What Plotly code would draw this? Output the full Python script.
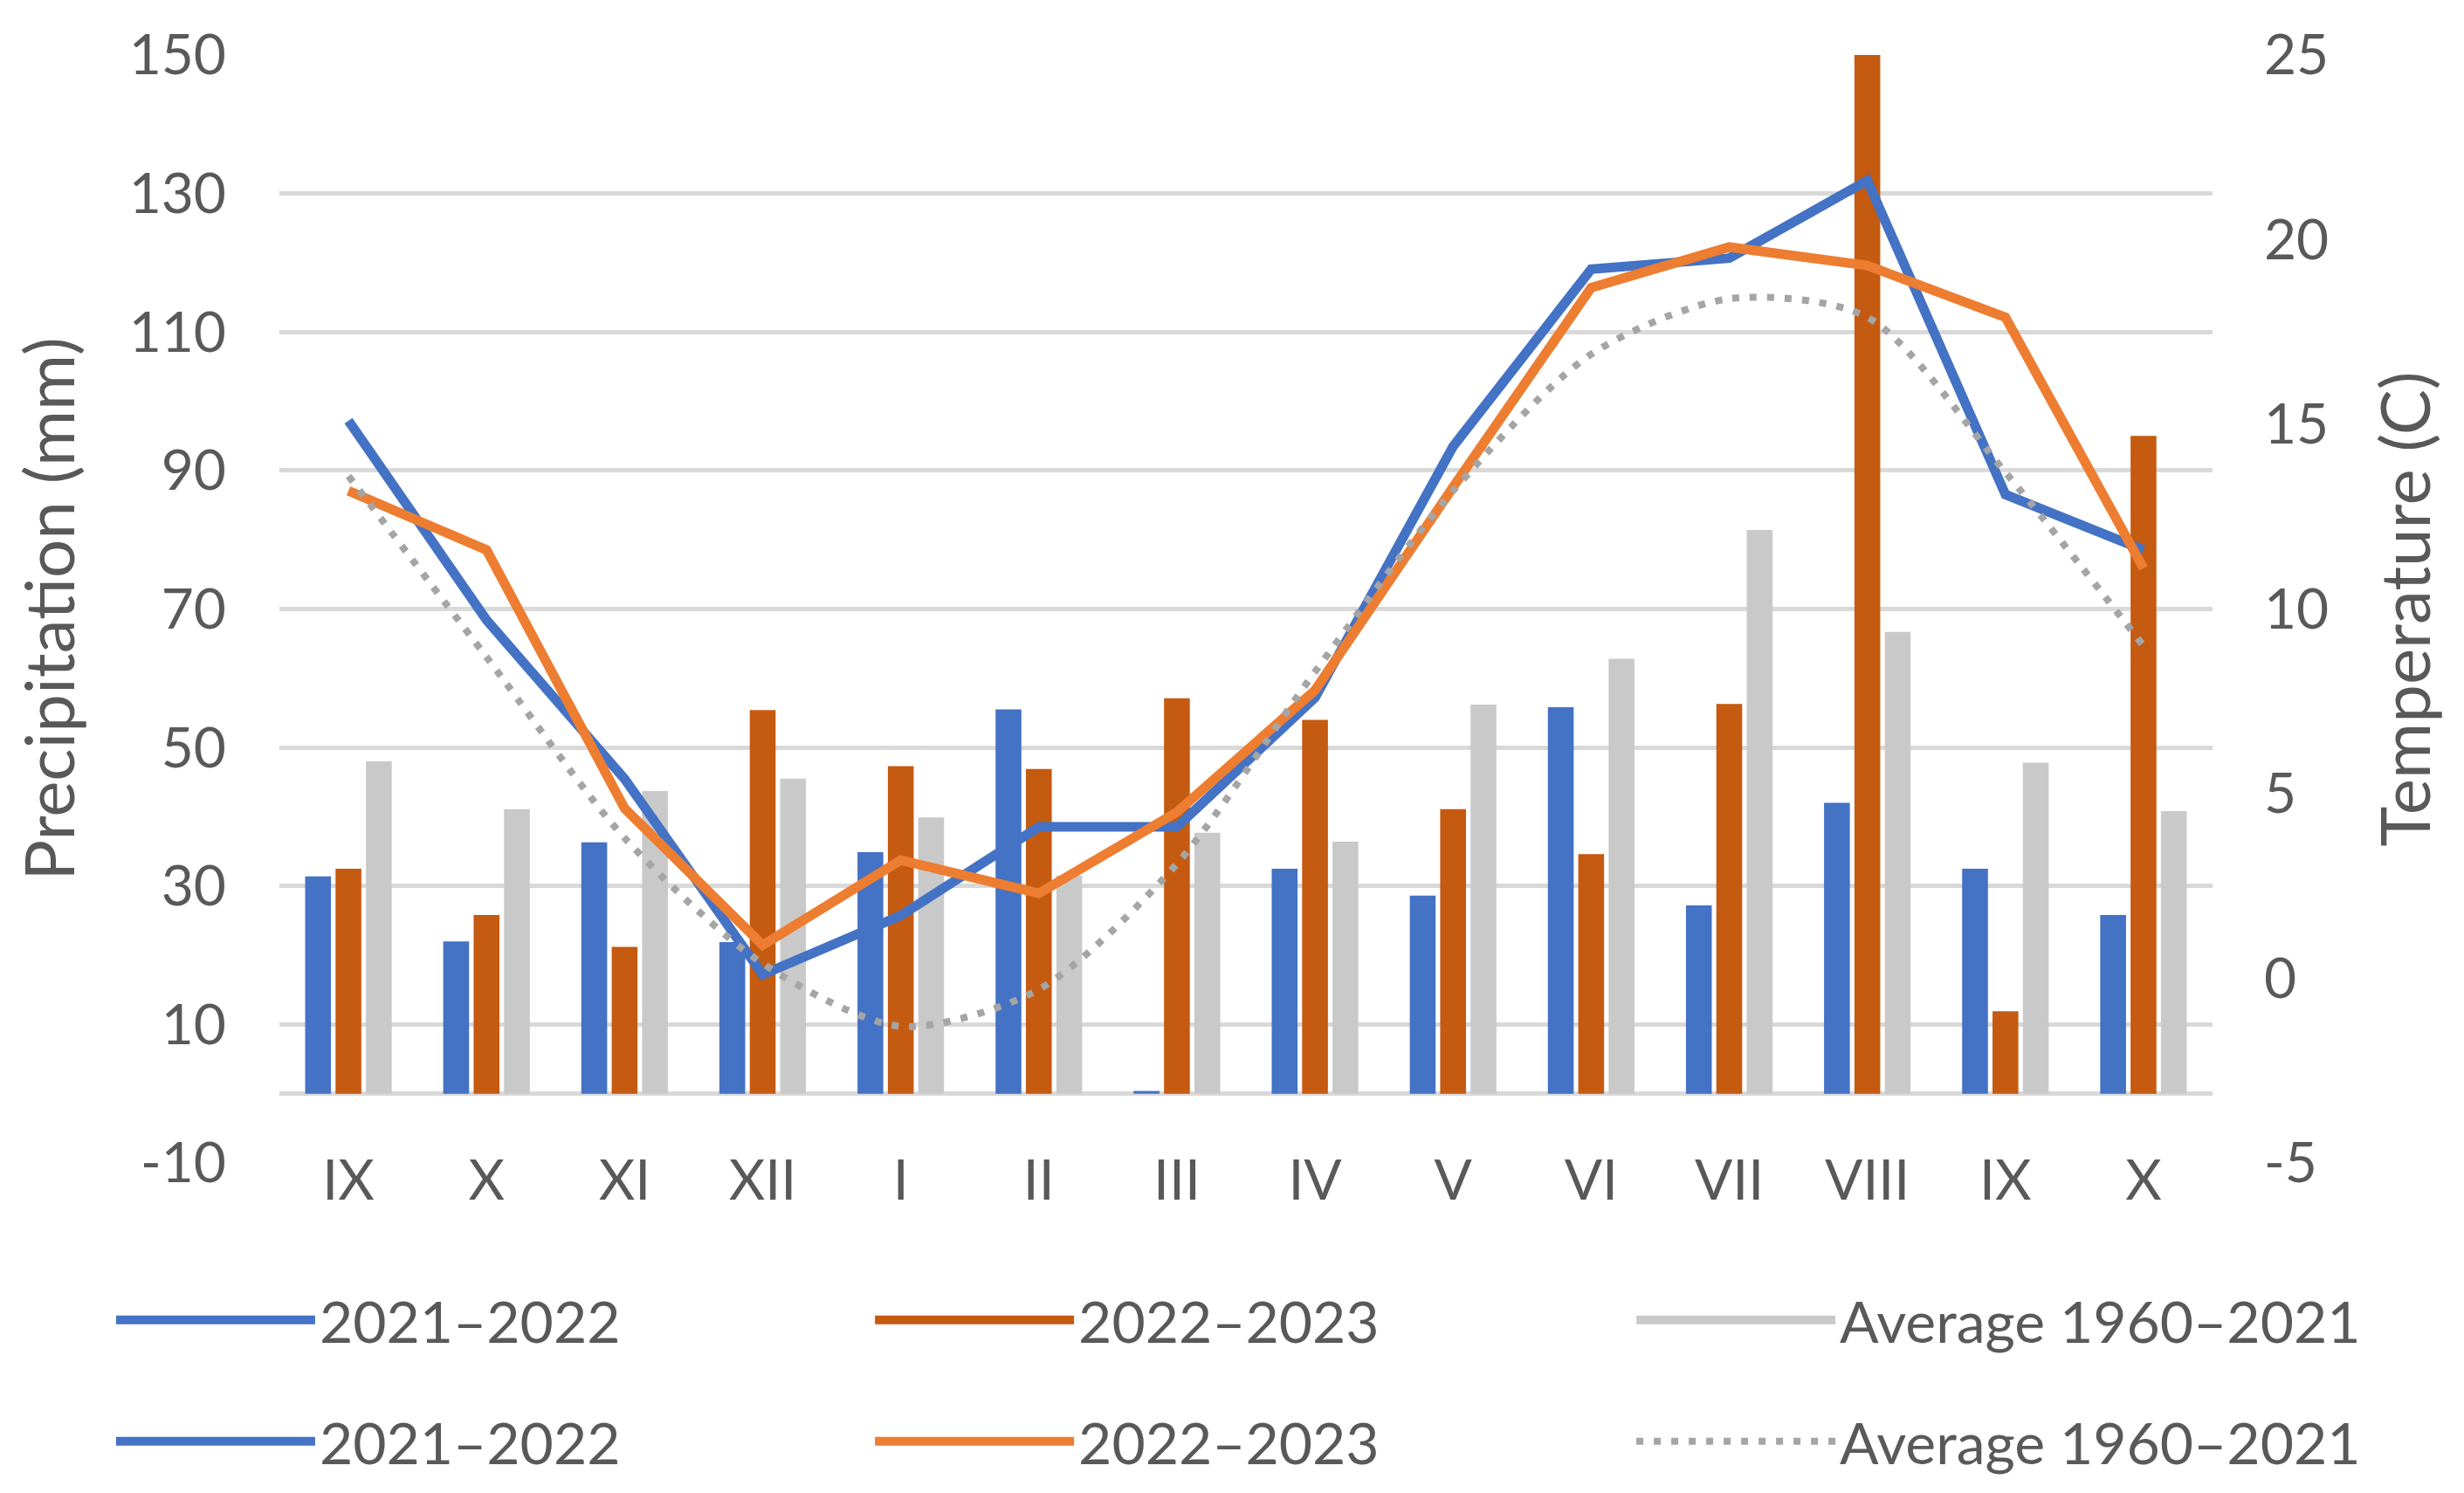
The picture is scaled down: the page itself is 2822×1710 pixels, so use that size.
import plotly.graph_objects as go

months = ["IX", "X", "XI", "XII", "I", "II", "III", "IV", "V", "VI", "VII", "VIII", "IX", "X"]
precip_2021_2022 = [31.4, 22.0, 36.3, 21.9, 34.9, 55.5, 0.4, 32.5, 28.6, 55.8, 27.2, 42.0, 32.5, 25.8]
precip_2022_2023 = [32.5, 25.8, 21.2, 55.4, 47.3, 46.9, 57.1, 54.0, 41.1, 34.6, 56.3, 150.0, 11.9, 95.0]
precip_avg = [48.0, 41.1, 43.7, 45.5, 39.9, 31.5, 37.7, 36.4, 56.2, 62.8, 81.4, 66.7, 47.8, 40.8]
temp_2021_2022 = [15.1, 9.7, 5.4, 0.1, 1.7, 4.1, 4.1, 7.6, 14.4, 19.2, 19.5, 21.6, 13.1, 11.6]
temp_2022_2023 = [13.2, 11.6, 4.6, 0.9, 3.2, 2.3, 4.5, 7.8, 13.3, 18.7, 19.8, 19.3, 17.9, 11.1]
temp_avg = [13.6, 8.7, 3.8, 0.4, -1.3, -0.3, 3.1, 8.3, 13.2, 16.9, 18.4, 17.9, 13.7, 9.0]
series_names = ["2021–2022", "2022–2023", "Average 1960–2021"]
precip_ticks = [-10, 10, 30, 50, 70, 90, 110, 130, 150]
precip_tick_labels = ["-10", "10", "30", "50", "70", "90", "110", "130", "150"]
temp_ticks = [-5, 0, 5, 10, 15, 20, 25]
temp_tick_labels = ["-5", "0", "5", "10", "15", "20", "25"]

x_pos = list(range(len(months)))

BLUE = "#4472C4"
ORANGE_BAR = "#C55A11"
GRAY_BAR = "#C9C9C9"
ORANGE_LINE = "#ED7D31"
GRAY_LINE = "#A5A5A5"
TEXT = "#595959"
GRID = "#D9D9D9"
FONT = "Lato"
FS = 64
LEG_FS = 66
TITLE_FS = 78

fig = go.Figure()

for vals, col, nm in zip([precip_2021_2022, precip_2022_2023, precip_avg],
                         [BLUE, ORANGE_BAR, GRAY_BAR], series_names):
    fig.add_trace(go.Bar(x=x_pos, y=vals, marker=dict(color=col, line=dict(width=0)),
                         name=nm, showlegend=False, yaxis="y"))

# legend entries for the bar series (row 1)
for i, (col, nm) in enumerate(zip([BLUE, ORANGE_BAR, GRAY_BAR], series_names)):
    fig.add_trace(go.Scatter(x=[None], y=[None], mode="lines", name=nm,
                             line=dict(color=col, width=10),
                             legend="legend" if i == 0 else f"legend{i + 1}",
                             hoverinfo="skip"))

# temperature lines (row 2 of legend)
for i, (vals, col, nm, dash, shape) in enumerate(zip(
        [temp_2021_2022, temp_2022_2023, temp_avg],
        [BLUE, ORANGE_LINE, GRAY_LINE], series_names,
        ["solid", "solid", "8px,12px"],
        ["linear", "linear", "spline"])):
    fig.add_trace(go.Scatter(x=x_pos, y=vals, mode="lines", name=nm, yaxis="y2",
                             line=dict(color=col, width=11 if dash == "solid" else 8,
                                       dash=dash, shape=shape, smoothing=0.8),
                             legend=f"legend{i + 4}"))

col_x = [0.0425, 0.3505, 0.6595]
row_y = [0.1205, 0.0392]
legends = {}
n = 0
for r in range(2):
    for c in range(3):
        n += 1
        key = "legend" if n == 1 else f"legend{n}"
        legends[key] = dict(orientation="h", xref="container", yref="container",
                            x=col_x[c], y=row_y[r], xanchor="left", yanchor="middle",
                            itemwidth=228, bgcolor="rgba(0,0,0,0)",
                            font=dict(family=FONT, size=LEG_FS, color=TEXT))

fig.update_layout(
    width=2822, height=1710,
    margin=dict(l=312, r=296, t=55, b=386),
    paper_bgcolor="white", plot_bgcolor="white",
    font=dict(family=FONT, size=FS, color=TEXT),
    barmode="group", bargap=0.34, bargroupgap=0.15,
    xaxis=dict(range=[-0.5, 13.5], tickvals=x_pos, ticktext=months,
               showgrid=False, showline=False, zeroline=False, ticks="",
               anchor="free", position=0.018,
               tickfont=dict(family=FONT, size=FS, color=TEXT)),
    yaxis=dict(range=[-10, 150], tickvals=precip_ticks, ticktext=precip_tick_labels,
               showgrid=True, gridcolor=GRID, gridwidth=5, zeroline=True,
               zerolinecolor=GRID, zerolinewidth=5, showline=False, ticks="",
               ticklabelstandoff=60,
               tickfont=dict(family=FONT, size=FS, color=TEXT),
               title=dict(text="Precipitation (mm)", standoff=38,
                          font=dict(family=FONT, size=TITLE_FS, color=TEXT))),
    yaxis2=dict(range=[-5, 25], tickvals=temp_ticks, ticktext=temp_tick_labels,
                overlaying="y", side="right",
                showgrid=False, zeroline=False, showline=False, ticks="",
                ticklabelstandoff=58,
                tickfont=dict(family=FONT, size=FS, color=TEXT),
                title=dict(text="Temperature (C)", standoff=62,
                           font=dict(family=FONT, size=TITLE_FS, color=TEXT))),
    **legends,
)

fig.write_html("out.html")
